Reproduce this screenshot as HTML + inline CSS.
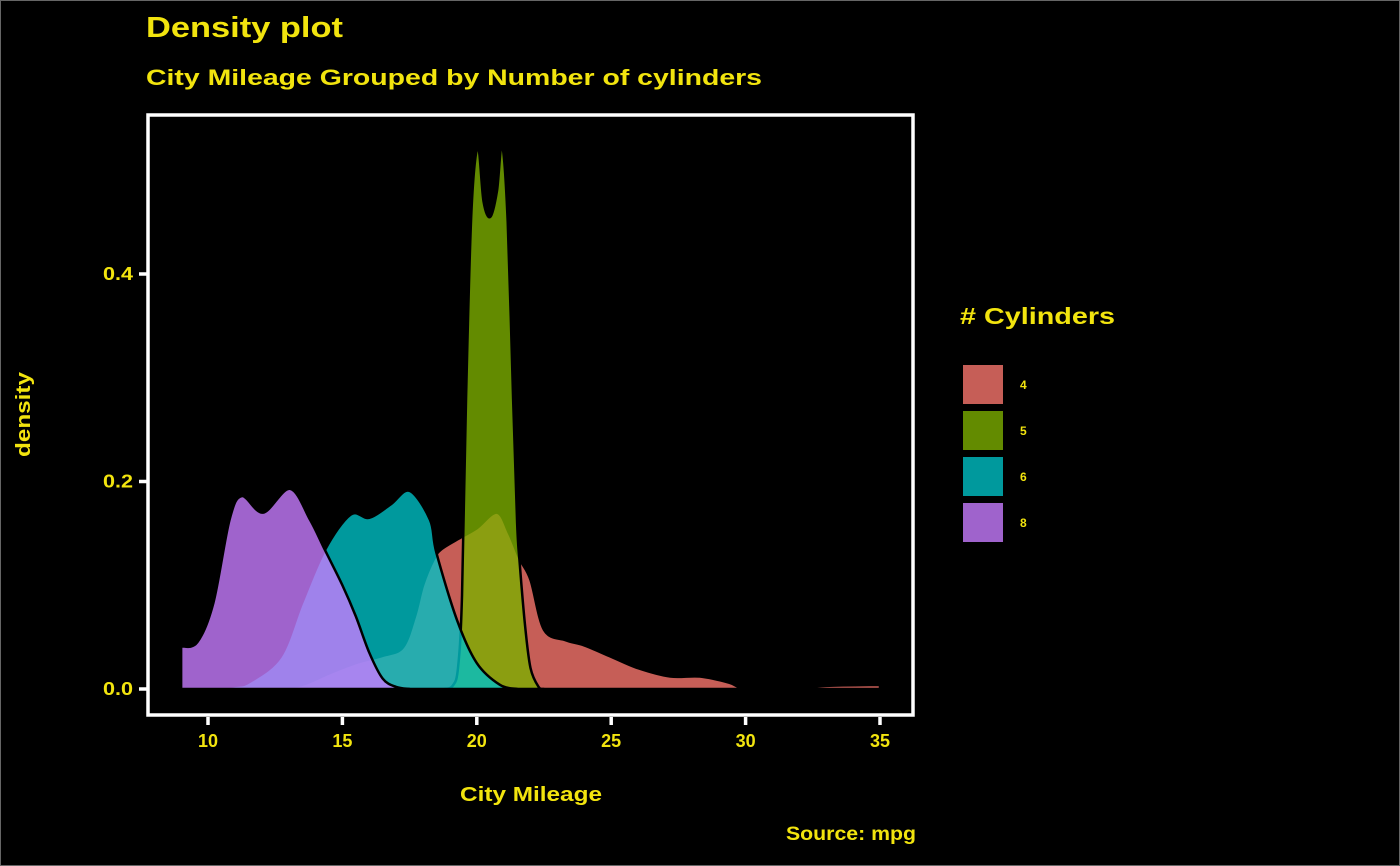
<!DOCTYPE html>
<html><head><meta charset="utf-8">
<style>
html,body{margin:0;padding:0;background:#000;}
svg{display:block;}
text{font-family:"Liberation Sans","DejaVu Sans",sans-serif;font-weight:bold;fill:#f2e40e;}
</style></head>
<body>
<svg id="chart" width="1400" height="866" viewBox="0 0 1400 866" xmlns="http://www.w3.org/2000/svg">
<rect x="0.5" y="0.5" width="1399" height="865" fill="#000" stroke="#666" stroke-width="1"/>
<text x="146" y="37" font-size="29" textLength="197" lengthAdjust="spacingAndGlyphs">Density plot</text>
<text x="146" y="85" font-size="22" textLength="616" lengthAdjust="spacingAndGlyphs">City Mileage Grouped by Number of cylinders</text>
<g id="marks"></g>
<rect x="148" y="115" width="765" height="600" fill="none" stroke="#fff" stroke-width="3.5"/>
<g id="axes"></g>
<text x="460" y="801" font-size="20" textLength="142" lengthAdjust="spacingAndGlyphs">City Mileage</text>
<text transform="translate(30,457) rotate(-90)" font-size="20" textLength="85" lengthAdjust="spacingAndGlyphs">density</text>
<text x="786" y="840" font-size="19" textLength="130" lengthAdjust="spacingAndGlyphs">Source: mpg</text>
<text x="960" y="324" font-size="23" textLength="155" lengthAdjust="spacingAndGlyphs"># Cylinders</text>
<g id="legend"></g>
</svg>
<script>
const groups = ["4","5","6","8"];
const colors = ["#F8766D","#7CAE00","#00BFC4","#C77CFF"];
const xTicks = [10,15,20,25,30,35];
const yTicks = [0.0,0.2,0.4];
const x4 = [12.5,13.5,14.5,15.5,16.5,17.25,17.7,18.0,18.4,18.7,19.4,20,20.75,21.2,21.6,22,22.5,23.3,24,25,26,27.2,28.3,29.4,30,31.5,33,35];
const d4 = [0,0.004,0.015,0.025,0.032,0.04,0.07,0.1,0.125,0.135,0.146,0.155,0.17,0.15,0.125,0.105,0.057,0.047,0.042,0.031,0.02,0.012,0.012,0.006,0,0,0.003,0.004];
const x5 = [18.8,19.1,19.3,19.45,19.6,19.8,20.04,20.25,20.5,20.75,20.94,21.15,21.35,21.5,21.6,21.8,22.0,22.3,22.5];
const d5 = [0,0.003,0.02,0.09,0.28,0.46,0.522,0.47,0.455,0.48,0.524,0.45,0.28,0.16,0.12,0.06,0.02,0.002,0];
const x6 = [10,11,11.56,12.7,13.5,14.35,15.3,16.0,16.8,17.5,18.26,18.5,19.27,20.0,20.86,21.5];
const d6 = [0,0.003,0.007,0.031,0.083,0.134,0.168,0.165,0.178,0.191,0.163,0.131,0.066,0.025,0.004,0];
const x8 = [9,9.6,10.2,10.8,11.26,12.05,13.05,13.8,14.35,15,15.5,16,16.5,17,17.5];
const d8 = [0.041,0.045,0.083,0.163,0.186,0.17,0.193,0.163,0.134,0.1,0.07,0.035,0.01,0.002,0];
const xs = [x4,x5,x6,x8], ds = [d4,d5,d6,d8];

const NS="http://www.w3.org/2000/svg";
const X = v => 208 + (v-10)*26.88;
const Y = d => 689 - d*1037.5;
function smooth(pts){
  let s = "M"+pts[0][0]+","+pts[0][1];
  for(let i=0;i<pts.length-1;i++){
    const p0=pts[Math.max(0,i-1)],p1=pts[i],p2=pts[i+1],p3=pts[Math.min(pts.length-1,i+2)];
    const c1=[p1[0]+(p2[0]-p0[0])/6,p1[1]+(p2[1]-p0[1])/6];
    const c2=[p2[0]-(p3[0]-p1[0])/6,p2[1]-(p3[1]-p1[1])/6];
    s+=" C"+c1[0]+","+c1[1]+" "+c2[0]+","+c2[1]+" "+p2[0]+","+p2[1];
  }
  return s;
}
const marks=document.getElementById("marks");
groups.forEach((g,i)=>{
  const pts = xs[i].map((v,j)=>[X(v),Math.min(Y(ds[i][j]),689)]);
  const p=document.createElementNS(NS,"path");
  p.setAttribute("d", smooth(pts)+" L"+X(xs[i][xs[i].length-1])+",689 L"+X(xs[i][0])+",689 Z");
  p.setAttribute("fill",colors[i]);
  p.setAttribute("fill-opacity","0.8");
  p.setAttribute("stroke","#000");
  p.setAttribute("stroke-width","2.5");
  p.setAttribute("stroke-linejoin","round");
  
  
  marks.appendChild(p);
});
const axes=document.getElementById("axes");
xTicks.forEach(t=>{
  const l=document.createElementNS(NS,"line");
  l.setAttribute("x1",X(t));l.setAttribute("x2",X(t));l.setAttribute("y1",717);l.setAttribute("y2",725);
  l.setAttribute("stroke","#fff");l.setAttribute("stroke-width","3.5");
  
  
  axes.appendChild(l);
  const tx=document.createElementNS(NS,"text");
  tx.setAttribute("x",X(t));tx.setAttribute("y",747);tx.setAttribute("font-size","18");tx.setAttribute("text-anchor","middle");
  tx.textContent=t;
  
  
  axes.appendChild(tx);
});
yTicks.forEach(t=>{
  const l=document.createElementNS(NS,"line");
  l.setAttribute("x1",139);l.setAttribute("x2",147);l.setAttribute("y1",Y(t));l.setAttribute("y2",Y(t));
  l.setAttribute("stroke","#fff");l.setAttribute("stroke-width","3.5");
  
  
  axes.appendChild(l);
  const tx=document.createElementNS(NS,"text");
  tx.setAttribute("x",133);tx.setAttribute("y",Y(t)+6);tx.setAttribute("font-size","18");tx.setAttribute("text-anchor","end");
  tx.setAttribute("textLength","30");tx.setAttribute("lengthAdjust","spacingAndGlyphs");
  tx.textContent=t.toFixed(1);
  
  
  axes.appendChild(tx);
});
const legend=document.getElementById("legend");
groups.forEach((g,i)=>{
  const y0=365+i*46;
  const r=document.createElementNS(NS,"rect");
  r.setAttribute("x",963);r.setAttribute("y",y0);r.setAttribute("width",40);r.setAttribute("height",39);
  r.setAttribute("fill",colors[i]);r.setAttribute("fill-opacity","0.8");
  
  
  legend.appendChild(r);
  const tx=document.createElementNS(NS,"text");
  tx.setAttribute("x",1020);tx.setAttribute("y",y0+24);tx.setAttribute("font-size","12");
  tx.textContent=g;
  
  
  legend.appendChild(tx);
});
</script>
</body></html>
